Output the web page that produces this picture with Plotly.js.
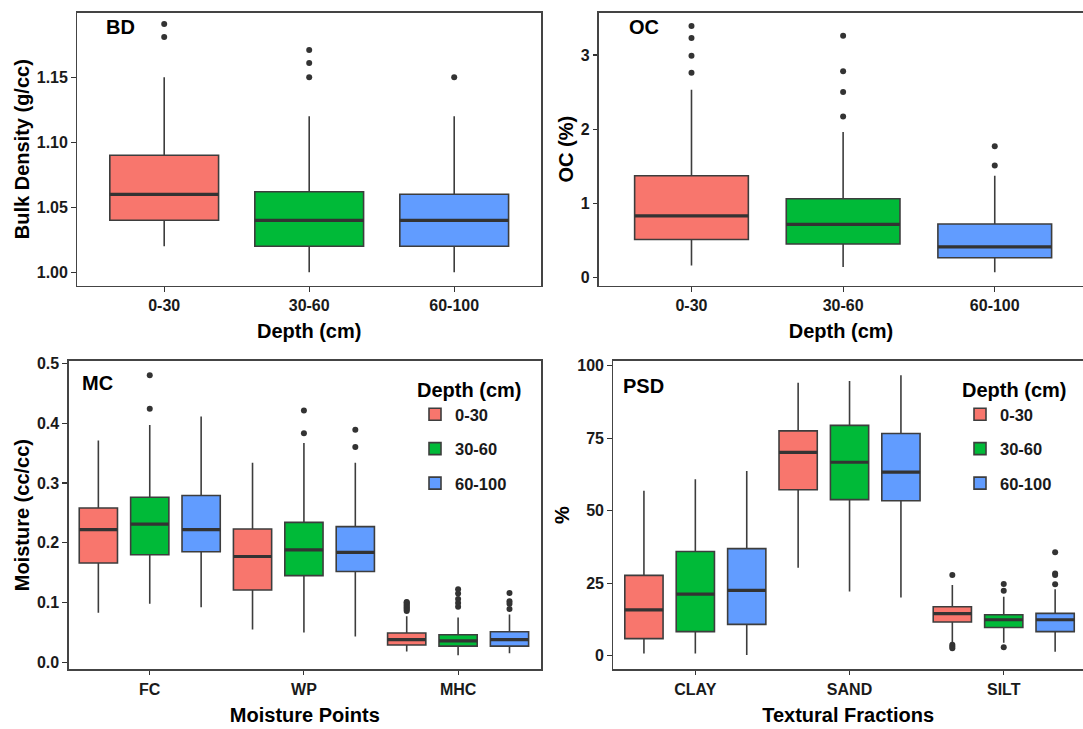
<!DOCTYPE html>
<html><head><meta charset="utf-8">
<script src="https://cdn.plot.ly/plotly-3.0.1.min.js"></script>
<style>html,body{margin:0;padding:0;background:#fff}#chart{width:1083px;height:729px}</style>
</head><body><div id="chart"></div>
<script>
// ---------- categories ----------
const depths = ['0-30', '30-60', '60-100'];
const moisturePoints = ['FC', 'WP', 'MHC'];
const fractions = ['CLAY', 'SAND', 'SILT'];

// ---------- BD (g/cc), one value per depth ----------
const bdQ1  = [1.040, 1.020, 1.020];
const bdMed = [1.060, 1.040, 1.040];
const bdQ3  = [1.090, 1.062, 1.060];
const bdLo  = [1.020, 1.000, 1.000];
const bdHi  = [1.150, 1.120, 1.120];
const bdOutX = ['0-30', '0-30', '30-60', '30-60', '30-60', '60-100'];
const bdOutY = [1.191, 1.181, 1.171, 1.161, 1.150, 1.150];

// ---------- OC (%), one value per depth ----------
const ocQ1  = [0.51, 0.45, 0.265];
const ocMed = [0.83, 0.715, 0.41];
const ocQ3  = [1.37, 1.06, 0.72];
const ocLo  = [0.16, 0.14, 0.067];
const ocHi  = [2.53, 1.96, 1.37];
const ocOutX = ['0-30', '0-30', '0-30', '0-30', '30-60', '30-60', '30-60', '30-60', '60-100', '60-100'];
const ocOutY = [3.39, 3.23, 2.99, 2.76, 3.26, 2.78, 2.50, 2.17, 1.77, 1.51];

// ---------- MC (cc/cc), rows = depth, cols = FC, WP, MHC ----------
const mcQ1  = [[0.166, 0.121, 0.029], [0.180, 0.145, 0.027], [0.185, 0.152, 0.027]];
const mcMed = [[0.222, 0.177, 0.038], [0.231, 0.188, 0.036], [0.222, 0.184, 0.038]];
const mcQ3  = [[0.258, 0.223, 0.049], [0.276, 0.234, 0.046], [0.279, 0.227, 0.051]];
const mcLo  = [[0.083, 0.055, 0.018], [0.098, 0.050, 0.012], [0.092, 0.043, 0.015]];
const mcHi  = [[0.371, 0.334, 0.077], [0.397, 0.367, 0.075], [0.411, 0.334, 0.080]];
const mcOutX = [
  ['MHC', 'MHC', 'MHC', 'MHC', 'MHC', 'MHC', 'MHC', 'MHC', 'MHC'],
  ['FC', 'FC', 'WP', 'WP', 'MHC', 'MHC', 'MHC', 'MHC', 'MHC'],
  ['WP', 'WP', 'MHC', 'MHC', 'MHC', 'MHC']
];
const mcOutY = [
  [0.086, 0.088, 0.090, 0.092, 0.094, 0.096, 0.098, 0.100, 0.101],
  [0.480, 0.424, 0.421, 0.383, 0.093, 0.099, 0.106, 0.115, 0.122],
  [0.389, 0.360, 0.089, 0.098, 0.102, 0.116]
];

// ---------- PSD (%), rows = depth, cols = CLAY, SAND, SILT ----------
const psdQ1  = [[5.9, 57.2, 11.6], [8.3, 53.8, 9.7], [10.8, 53.4, 8.3]];
const psdMed = [[15.8, 70.1, 14.5], [21.2, 66.7, 12.4], [22.5, 63.3, 12.4]];
const psdQ3  = [[27.7, 77.5, 16.9], [35.9, 79.4, 14.1], [36.9, 76.6, 14.6]];
const psdLo  = [[0.8, 30.3, 4.0], [0.8, 22.1, 4.5], [0.2, 20.1, 1.4]];
const psdHi  = [[56.9, 94.1, 24.4], [60.8, 94.7, 20.3], [63.7, 96.7, 22.9]];
const psdOutX = [
  ['SILT', 'SILT', 'SILT', 'SILT'],
  ['SILT', 'SILT', 'SILT'],
  ['SILT', 'SILT', 'SILT', 'SILT']
];
const psdOutY = [
  [27.8, 3.8, 3.2, 2.6],
  [24.7, 22.4, 2.9],
  [35.7, 28.3, 27.8, 24.6]
];

// ---------- styles ----------
const fills = ['#F8766D', '#00BA38', '#619CFF'];
const FONT = 'Liberation Sans, Arial, sans-serif';
const dark = '#333333';
const boxLine = {color: '#3d3d3d', width: 1.6};
const medLine = {color: dark, width: 3.2};
const outMarker = {color: dark, size: 6};

const traces = [];
// Panel 1 & 2: one box per depth (+ a thicker median stroke drawn from the same medians)
function singleBoxes(q1, med, q3, lo, hi, xa, ya) {
  depths.forEach((d, i) => {
    traces.push({type: 'box', x: [d], q1: [q1[i]], median: [med[i]], q3: [q3[i]],
      lowerfence: [lo[i]], upperfence: [hi[i]], width: 0.75, boxpoints: false,
      fillcolor: fills[i], line: boxLine, whiskerwidth: 0, showlegend: false, name: d,
      xaxis: xa, yaxis: ya, hoverinfo: 'y'});
    traces.push({type: 'box', x: [d], q1: [med[i]], median: [med[i]], q3: [med[i]],
      lowerfence: [med[i]], upperfence: [med[i]], width: 0.75, boxpoints: false,
      fillcolor: 'rgba(0,0,0,0)', line: medLine, whiskerwidth: 0, showlegend: false, name: d,
      xaxis: xa, yaxis: ya, hoverinfo: 'skip'});
  });
}
singleBoxes(bdQ1, bdMed, bdQ3, bdLo, bdHi, 'x', 'y');
traces.push({type: 'scatter', mode: 'markers', x: bdOutX, y: bdOutY, marker: outMarker,
  showlegend: false, xaxis: 'x', yaxis: 'y', hoverinfo: 'y'});
singleBoxes(ocQ1, ocMed, ocQ3, ocLo, ocHi, 'x2', 'y2');
traces.push({type: 'scatter', mode: 'markers', x: ocOutX, y: ocOutY, marker: outMarker,
  showlegend: false, xaxis: 'x2', yaxis: 'y2', hoverinfo: 'y'});

// Panel 3 & 4: grouped boxes
function groupedBoxes(cats, q1, med, q3, lo, hi, outX, outY, xa, ya, leg) {
  depths.forEach((d, i) => {
    traces.push({type: 'box', x: cats, q1: q1[i], median: med[i], q3: q3[i],
      lowerfence: lo[i], upperfence: hi[i], boxpoints: false, offsetgroup: d,
      fillcolor: fills[i], line: boxLine, whiskerwidth: 0, name: d, legendgroup: d,
      showlegend: true, legend: leg, xaxis: xa, yaxis: ya, hoverinfo: 'y'});
    traces.push({type: 'box', x: cats, q1: med[i], median: med[i], q3: med[i],
      lowerfence: med[i], upperfence: med[i], boxpoints: false, offsetgroup: d,
      fillcolor: 'rgba(0,0,0,0)', line: medLine, whiskerwidth: 0, name: d, legendgroup: d,
      showlegend: false, xaxis: xa, yaxis: ya, hoverinfo: 'skip'});
    traces.push({type: 'scatter', mode: 'markers', x: outX[i], y: outY[i], offsetgroup: d,
      marker: outMarker, showlegend: false, legendgroup: d, xaxis: xa, yaxis: ya, hoverinfo: 'y'});
  });
}
groupedBoxes(moisturePoints, mcQ1, mcMed, mcQ3, mcLo, mcHi, mcOutX, mcOutY, 'x3', 'y3', 'legend');
groupedBoxes(fractions, psdQ1, psdMed, psdQ3, psdLo, psdHi, psdOutX, psdOutY, 'x4', 'y4', 'legend2');

const W = 1083, H = 729;
const tickFont = {family: FONT, size: 16, color: '#1a1a1a', weight: 'bold'};
const titleFont = {family: FONT, size: 20, color: '#000', weight: 'bold'};

function xAxis(anchor, x0, x1, range, cats, title) {
  return {anchor: anchor, domain: [x0 / W, x1 / W], range: range, type: 'category',
    categoryorder: 'array', categoryarray: cats,
    showline: true, mirror: true, linecolor: '#444', linewidth: 1.6,
    ticks: 'outside', ticklen: 4.5, tickwidth: 1.1, tickcolor: dark,
    tickfont: tickFont, showgrid: false, zeroline: false, automargin: true,
    title: {text: title, font: titleFont, standoff: 11}};
}
function yAxis(anchor, yTop, yBot, range, tickvals, fmt, title, mirror) {
  return {anchor: anchor, domain: [1 - yBot / H, 1 - yTop / H], range: range,
    showline: true, mirror: mirror, linecolor: '#444', linewidth: 1.6,
    ticks: 'outside', ticklen: 4.5, tickwidth: 1.1, tickcolor: dark,
    tickvals: tickvals, tickformat: fmt,
    tickfont: tickFont, showgrid: false, zeroline: false, automargin: true,
    title: {text: title, font: titleFont, standoff: 2}};
}

const legendCommon = {
  xanchor: 'left', yanchor: 'top', bgcolor: 'rgba(0,0,0,0)',
  font: {family: FONT, size: 16.5, color: '#1a1a1a', weight: 'bold'},
  title: {text: 'Depth (cm)', font: titleFont},
  tracegroupgap: 10, traceorder: 'grouped'
};

const labelFont = {family: FONT, size: 20, color: '#000', weight: 'bold'};
function panelLabel(text, x, y) {
  return {text: text, x: x / W, y: 1 - y / H, xref: 'paper', yref: 'paper',
    xanchor: 'left', yanchor: 'middle', showarrow: false, font: labelFont};
}

const layout = {
  width: W, height: H,
  margin: {l: 0, r: 0, t: 0, b: 0, autoexpand: false},
  paper_bgcolor: '#fff', plot_bgcolor: '#fff',
  showlegend: true,
  boxmode: 'group', boxgap: 0, boxgroupgap: 0.256,
  scattermode: 'group', scattergap: 0,
  xaxis:  xAxis('y', 77.2, 541.2, [-0.6, 2.6], depths, 'Depth (cm)'),
  yaxis:  yAxis('x', 12.7, 285.7, [0.9897, 1.1997], [1.00, 1.05, 1.10, 1.15], '.2f', 'Bulk Density (g/cc)', true),
  xaxis2: xAxis('y2', 599, 1083, [-0.61, 2.582], depths, 'Depth (cm)'),
  yaxis2: yAxis('x2', 12.7, 285.7, [-0.113, 3.571], [0, 1, 2, 3], 'd', 'OC (%)', false),
  xaxis3: xAxis('y3', 68.5, 541.2, [-0.527, 2.539], moisturePoints, 'Moisture Points'),
  yaxis3: yAxis('x3', 361, 669.3, [-0.0117, 0.504], [0, 0.1, 0.2, 0.3, 0.4, 0.5], '.1f', 'Moisture (cc/cc)', true),
  xaxis4: xAxis('y4', 613.3, 1083, [-0.532, 2.514], fractions, 'Textural Fractions'),
  yaxis4: yAxis('x4', 361, 669.3, [-4.69, 101.6], [0, 25, 50, 75, 100], 'd', '%', false),
  legend:  Object.assign({x: 415 / W, y: 1 - 371 / H}, legendCommon),
  legend2: Object.assign({x: 960 / W, y: 1 - 371 / H}, legendCommon),
  annotations: [
    panelLabel('BD', 104, 26.7),
    panelLabel('OC', 627, 26.7),
    panelLabel('MC', 80, 382.7),
    panelLabel('PSD', 621, 385.7)
  ]
};

Plotly.newPlot('chart', traces, layout, {staticPlot: true, displayModeBar: false});
</script>
</body></html>
